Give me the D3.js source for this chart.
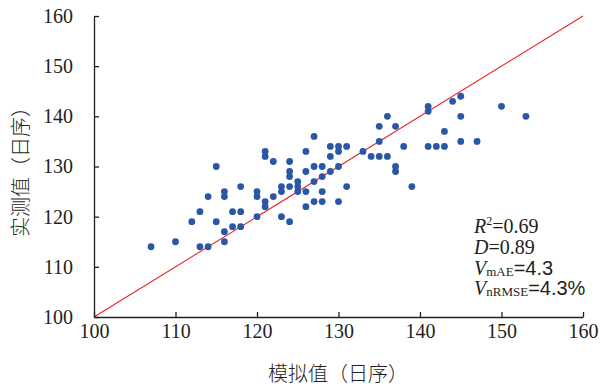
<!DOCTYPE html>
<html>
<head>
<meta charset="utf-8">
<script src="https://cdn.jsdelivr.net/npm/d3@7"></script>
<style>
  body { margin: 0; background: #fff; }
  svg text { fill: #231f20; }
</style>
</head>
<body>
<svg id="chart"></svg>
<script>
// simulated (x) vs observed (y), day of year
const simulated = [115, 114, 116, 116, 118, 120, 120, 113, 112, 115, 117, 118, 120, 116, 117, 118, 116, 110, 107, 113, 114,
  127, 121, 121, 122, 124, 126, 129, 130, 131, 129, 130, 133, 124, 124, 126, 127, 128, 129, 130, 128, 127, 125, 124, 125,
  123, 123, 125, 126, 128, 131, 122, 121, 121, 127, 128, 130, 126, 123, 124,
  145, 144, 141, 141, 150, 153, 136, 145, 135, 137, 143, 135, 145, 147, 138, 141, 142, 143, 134, 135, 136, 137, 137, 139];
const observed = [130, 124, 125, 124, 126, 125, 124, 121, 119, 119, 121, 121, 120, 117, 118, 118, 115, 115, 114, 114, 114,
  136, 133, 132, 131, 131, 133, 134, 134, 134, 132, 133, 133, 129, 128, 129, 130, 130, 129, 130, 128, 127, 127, 126, 126,
  126, 125, 125, 125, 125, 126, 124, 123, 122, 123, 123, 123, 122, 120, 119,
  144, 143, 142, 141, 142, 140, 140, 140, 138, 138, 137, 135, 135, 135, 134, 134, 134, 134, 132, 132, 132, 130, 129, 126];
const ticks = [100, 110, 120, 130, 140, 150, 160];
const xTitle = "模拟值（日序）";
const yTitle = "实测值（日序）";
const stats = [
  {v: "R", sup: "2", sub: "", val: "=0.69"},
  {v: "D", sup: "", sub: "", val: "=0.89"},
  {v: "V", sup: "", sub: "mAE", val: "=4.3"},
  {v: "V", sup: "", sub: "nRMSE", val: "=4.3%"}
];

const width = 601, height = 389;
const serif = "'Liberation Serif', 'DejaVu Serif', serif";
const sans = "'Liberation Sans', Arial, sans-serif";
const cjk = "'Noto Sans CJK SC', sans-serif";

const svg = d3.select("#chart")
  .attr("width", width)
  .attr("height", height);

const x = d3.scaleLinear().domain([100, 160]).range([94, 583]);
const y = d3.scaleLinear().domain([100, 160]).range([317, 16]);

// 1:1 line
svg.append("line")
  .attr("x1", x(100)).attr("y1", y(100))
  .attr("x2", x(160)).attr("y2", y(160))
  .attr("stroke", "#e8262b")
  .attr("stroke-width", 1.1);

// points
svg.selectAll(".dot")
  .data(simulated.map((s, i) => [s, observed[i]]))
  .enter()
  .append("circle")
  .attr("class", "dot")
  .attr("cx", d => x(d[0]))
  .attr("cy", d => y(d[1]))
  .attr("r", 3.4)
  .attr("fill", "#2a56a6");

// axes
const xAxis = d3.axisBottom(x).tickValues(ticks).tickSizeInner(-5).tickSizeOuter(0).tickPadding(7);
const yAxis = d3.axisLeft(y).tickValues(ticks).tickSizeInner(-5).tickSizeOuter(0).tickPadding(21);

const gx = svg.append("g")
  .attr("transform", `translate(0, ${y(100)})`)
  .call(xAxis);
const gy = svg.append("g")
  .attr("transform", `translate(${x(100)}, 0)`)
  .call(yAxis);

[gx, gy].forEach(g => {
  g.selectAll("path, line").attr("stroke", "#231f20").attr("stroke-width", 1.3);
  g.selectAll("text")
    .attr("font-family", serif)
    .attr("font-size", 20)
    .attr("fill", "#231f20");
});

// axis titles
svg.append("text")
  .attr("x", 338).attr("y", 381)
  .attr("text-anchor", "middle")
  .attr("font-family", cjk)
  .attr("font-weight", 300)
  .attr("font-size", 20)
  .text(xTitle);

svg.append("text")
  .attr("transform", "translate(28, 167) rotate(-90)")
  .attr("text-anchor", "middle")
  .attr("font-family", cjk)
  .attr("font-weight", 300)
  .attr("font-size", 20)
  .text(yTitle);

// statistics
const st = svg.append("g")
  .attr("font-family", serif)
  .attr("font-size", 20);
stats.forEach((s, i) => {
  const t = st.append("text")
    .attr("x", 474)
    .attr("y", 233 + i * 20.8);
  t.append("tspan").attr("font-style", "italic").text(s.v);
  if (s.sup) t.append("tspan").attr("font-size", 12).attr("dy", -8).text(s.sup);
  if (s.sub) t.append("tspan").attr("font-size", 13).attr("dy", 1).text(s.sub);
  t.append("tspan")
    .attr("dy", s.sup ? 8 : (s.sub ? -1 : 0))
    .attr("font-family", s.sub ? sans : serif)
    .text(s.val);
});
</script>
</body>
</html>
